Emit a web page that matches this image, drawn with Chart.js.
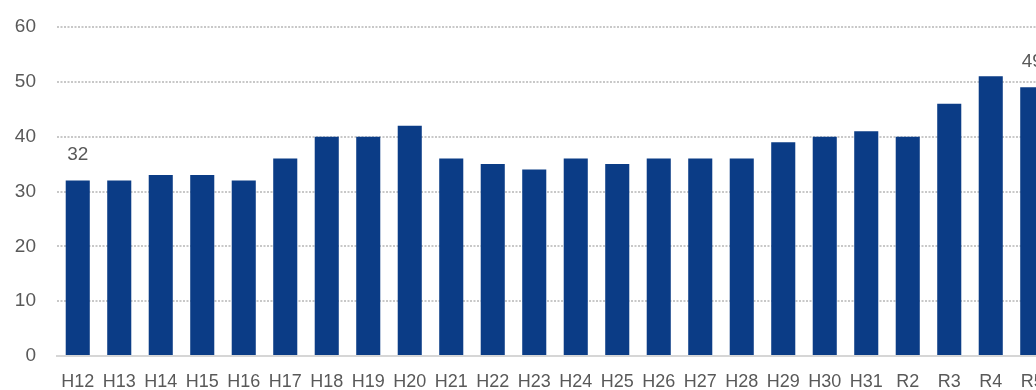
<!DOCTYPE html>
<html>
<head>
<meta charset="utf-8">
<script src="https://cdn.jsdelivr.net/npm/chart.js@4/dist/chart.umd.min.js"></script>
<style>
  html, body { margin: 0; padding: 0; background: #fff; overflow: hidden; }
  #wrap { position: relative; width: 1053px; height: 390px; }
</style>
</head>
<body>
<div id="wrap"><canvas id="myChart"></canvas></div>
<script>
var canvas = document.getElementById("myChart");

const categories = [
  "H12", "H13", "H14", "H15", "H16", "H17", "H18", "H19", "H20", "H21",
  "H22", "H23", "H24", "H25", "H26", "H27", "H28", "H29", "H30", "H31",
  "R2", "R3", "R4", "R5",
];
const values = [
  32, 32, 33, 33, 32, 36, 40, 40, 42, 36,
  35, 34, 36, 35, 36, 36, 36, 39, 40, 41,
  40, 46, 51, 49,
];
const yTicks = [0, 10, 20, 30, 40, 50, 60];
// only the first and the last bar get a value label
const labelledBars = ["H12", "R5"];

const textColor = "#595959";
const fontFamily = "'Liberation Sans', Arial, sans-serif";

// writes the value above the chosen bars
const valueLabels = {
  id: "valueLabels",
  afterDatasetsDraw(chart) {
    const ctx = chart.ctx;
    const meta = chart.getDatasetMeta(0);
    ctx.save();
    ctx.font = "19px " + fontFamily;
    ctx.fillStyle = textColor;
    ctx.textAlign = "center";
    ctx.textBaseline = "bottom";
    meta.data.forEach((bar, i) => {
      if (labelledBars.includes(categories[i])) {
        ctx.fillText(String(values[i]), bar.x, bar.y - 16);
      }
    });
    ctx.restore();
  },
};

new Chart(canvas, {
  type: "bar",
  data: {
    labels: categories,
    datasets: [
      {
        data: values,
        backgroundColor: "#0b3c86",
        borderWidth: 0,
        barPercentage: 0.58,
        categoryPercentage: 1,
      },
    ],
  },
  options: {
    responsive: true,
    maintainAspectRatio: false,
    animation: false,
    layout: { padding: { top: 27, right: 0, bottom: 0, left: 0 } },
    plugins: {
      legend: { display: false },
      tooltip: { enabled: false },
    },
    scales: {
      x: {
        grid: { display: false, drawTicks: false },
        border: { display: true, color: "#d6d6d6", width: 2 },
        ticks: {
          color: textColor,
          font: { family: fontFamily, size: 18 },
          padding: 15,
          maxRotation: 0,
          autoSkip: false,
        },
        afterFit(scale) {
          scale.height = 34;
          scale.paddingLeft = 0;
          scale.paddingRight = 0;
        },
      },
      y: {
        min: yTicks[0],
        max: yTicks[yTicks.length - 1],
        afterBuildTicks(scale) {
          scale.ticks = yTicks.map((v) => ({ value: v }));
        },
        grid: {
          color: "#c8c8c8",
          lineWidth: 2,
          drawTicks: false,
        },
        border: { display: false, dash: [2, 1.5] },
        ticks: {
          color: textColor,
          font: { family: fontFamily, size: 19 },
          padding: 21,
        },
        afterFit(scale) {
          scale.width = 57;
          scale.paddingTop = 0;
          scale.paddingBottom = 0;
        },
      },
    },
  },
  plugins: [valueLabels],
});
</script>
</body>
</html>
